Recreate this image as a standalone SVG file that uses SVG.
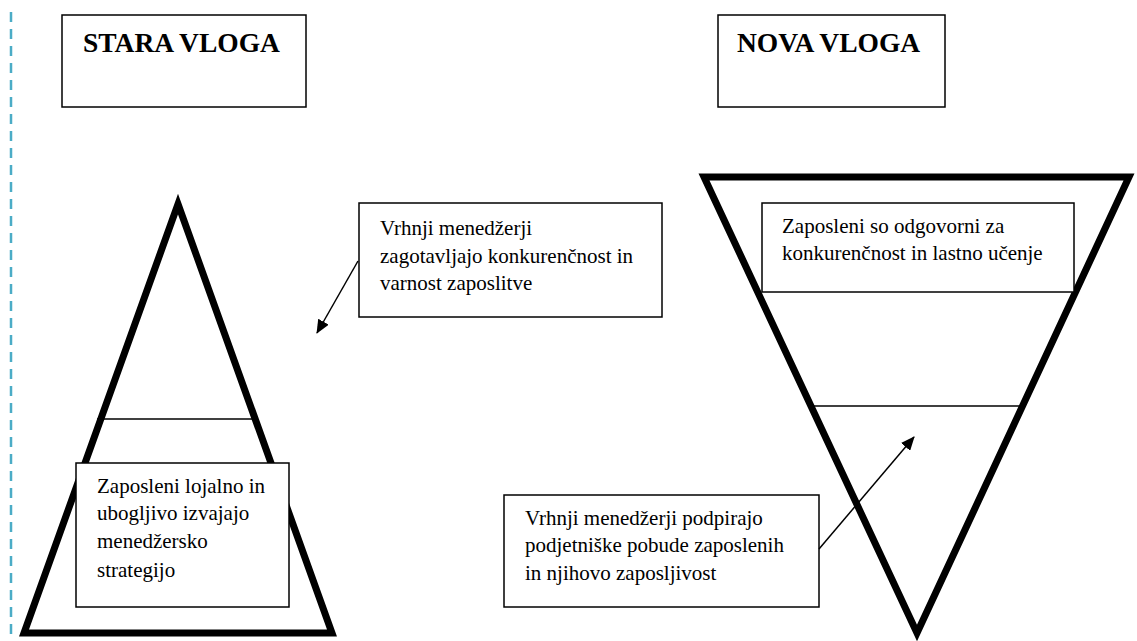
<svg xmlns="http://www.w3.org/2000/svg" width="1137" height="641" viewBox="0 0 1137 641">
<style>
.box{fill:#fff;stroke:#000;stroke-width:1.5}
.tri{fill:none;stroke:#000;stroke-width:7;stroke-linejoin:miter;stroke-miterlimit:10}
.thin{stroke:#000;stroke-width:1.5}
.t{font-family:"Liberation Serif","Times New Roman",serif;font-size:21px;fill:#000}
.h{font-family:"Liberation Serif","Times New Roman",serif;font-size:27.5px;font-weight:bold;fill:#000}
.conn{stroke:#000;stroke-width:1.5;fill:none}
</style>
<defs>
<marker id="ah" viewBox="0 0 14 12" refX="13" refY="6" markerWidth="14" markerHeight="12" markerUnits="userSpaceOnUse" orient="auto">
<path d="M0,0 L14,6 L0,12 z" fill="#000"/>
</marker>
</defs>
<rect width="1137" height="641" fill="#fff"/>
<line x1="11" y1="12" x2="11" y2="641" stroke="#4bacc6" stroke-width="2.5" stroke-dasharray="10 7"/>
<g id="stara-vloga">
<rect class="box" x="62" y="15" width="244" height="92"/>
<text class="h" x="83" y="52">STARA VLOGA</text>
</g>
<g id="nova-vloga">
<rect class="box" x="718" y="15" width="227" height="92"/>
<text class="h" x="737" y="52">NOVA VLOGA</text>
</g>
<g id="pyramid">
<polygon class="tri" points="178,204 332,633 24,633"/>
<line class="thin" x1="97" y1="419" x2="258" y2="419"/>
</g>
<g id="inverted-pyramid">
<polygon class="tri" points="704,177 1129,177 917,633"/>
<line class="thin" x1="811" y1="406" x2="1022" y2="406"/>
</g>
<g id="zaposleni-lojalno">
<rect class="box" x="76" y="463" width="213" height="144"/>
<text class="t" x="97" y="493">Zaposleni lojalno in</text>
<text class="t" x="97" y="520">ubogljivo izvajajo</text>
<text class="t" x="97" y="548">menedžersko</text>
<text class="t" x="97" y="577">strategijo</text>
</g>
<g id="vrhnji-zagotavljajo">
<rect class="box" x="359" y="203" width="303" height="114"/>
<text class="t" x="380" y="235">Vrhnji menedžerji</text>
<text class="t" x="380" y="263">zagotavljajo konkurenčnost in</text>
<text class="t" x="380" y="290">varnost zaposlitve</text>
</g>
<g id="zaposleni-odgovorni">
<rect class="box" x="762" y="203" width="312" height="89"/>
<text class="t" x="782" y="233">Zaposleni so odgovorni za</text>
<text class="t" x="782" y="260">konkurenčnost in lastno učenje</text>
</g>
<g id="vrhnji-podpirajo">
<rect class="box" x="504" y="495" width="315" height="112"/>
<text class="t" x="525" y="525">Vrhnji menedžerji podpirajo</text>
<text class="t" x="525" y="552">podjetniške pobude zaposlenih</text>
<text class="t" x="525" y="580">in njihovo zaposljivost</text>
</g>
<g id="connectors">
<line class="conn" x1="358" y1="261" x2="317" y2="333" marker-end="url(#ah)"/>
<line class="conn" x1="819" y1="549" x2="914" y2="437" marker-end="url(#ah)"/>
</g>
</svg>
